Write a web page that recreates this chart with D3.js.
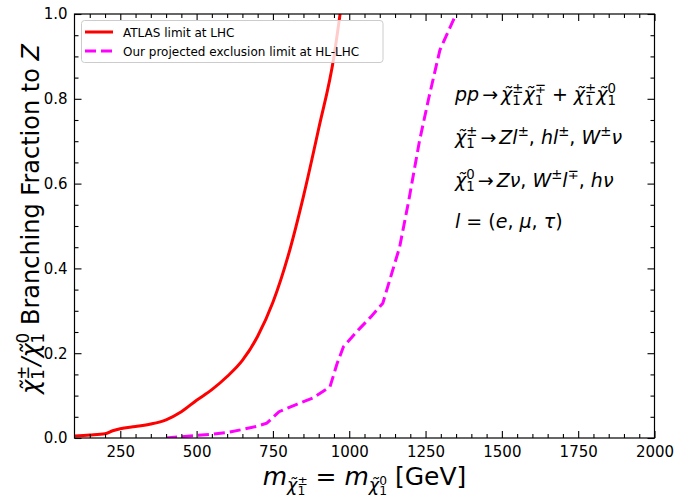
<!DOCTYPE html>
<html>
<head>
<meta charset="utf-8">
<script src="https://cdn.jsdelivr.net/npm/d3@7"></script>
<style>
  body { margin: 0; background: #fff; }
  svg text { font-family: "DejaVu Sans", sans-serif; fill: #000; white-space: pre; }
</style>
</head>
<body>
<div id="chart"></div>
<script>
// ATLAS limit at LHC
const atlasMass = [100, 150, 200, 225, 250, 300, 350, 400, 450, 500, 550, 600, 650, 700, 750, 800, 850, 900, 950, 970];
const atlasBR = [0.005, 0.007, 0.010, 0.017, 0.022, 0.027, 0.033, 0.043, 0.062, 0.089, 0.114, 0.145, 0.183, 0.24, 0.32, 0.43, 0.57, 0.73, 0.90, 1.0];

// projected HL-LHC exclusion
const hlMass = [400, 450, 500, 550, 600, 650, 700, 730, 770, 830, 880, 937, 960, 981, 1030, 1070, 1110, 1140, 1165, 1195, 1230, 1260, 1297, 1350];
const hlBR = [0.0, 0.003, 0.006, 0.009, 0.013, 0.02, 0.028, 0.035, 0.062, 0.08, 0.094, 0.121, 0.175, 0.215, 0.255, 0.285, 0.318, 0.39, 0.45, 0.56, 0.70, 0.80, 0.915, 1.0];

const xTicks = [250, 500, 750, 1000, 1250, 1500, 1750, 2000];
const yTicks = [0.0, 0.2, 0.4, 0.6, 0.8, 1.0];
const legendLabels = ["ATLAS limit at LHC", "Our projected exclusion limit at HL-LHC"];

const width = 675, height = 495;
const margin = {top: 14, right: 20.5, bottom: 57, left: 74.5};

const svg = d3.select("#chart").append("svg")
    .attr("width", width)
    .attr("height", height);

const x = d3.scaleLinear().domain([100, 2000]).range([margin.left, width - margin.right]);
const y = d3.scaleLinear().domain([0, 1]).range([height - margin.bottom, margin.top]);

const chi = "\u03C7\u0303";

// mathtext-like helper: base glyph with stacked sup/sub, advances by measured widths
function drawMath(parent, x0, y0, tokens, size) {
    const g = parent.append("g");
    let cx = x0;
    tokens.forEach(tk => {
        if (tk.gap) { cx += tk.gap; return; }
        let w = 0;
        if (tk.t) {
            const b = g.append("text")
                .attr("x", cx).attr("y", y0)
                .attr("font-size", size)
                .attr("font-style", tk.it ? "italic" : "normal")
                .text(tk.t);
            w = b.node().getComputedTextLength();
        }
        let extra = 0;
        if (tk.sup != null) {
            const s = g.append("text")
                .attr("x", cx + w).attr("y", y0 - size * 0.42)
                .attr("font-size", size * 0.7)
                .text(tk.sup);
            extra = Math.max(extra, s.node().getComputedTextLength());
        }
        if (tk.sub != null) {
            const s = g.append("text")
                .attr("x", cx + w).attr("y", y0 + size * 0.22)
                .attr("font-size", size * 0.7)
                .text(tk.sub);
            extra = Math.max(extra, s.node().getComputedTextLength());
        }
        cx += w + extra;
    });
    return {g, w: cx - x0};
}

// clip
svg.append("clipPath").attr("id", "clip")
  .append("rect")
    .attr("x", margin.left).attr("y", margin.top)
    .attr("width", x.range()[1] - x.range()[0])
    .attr("height", y.range()[0] - y.range()[1]);

// curves
const atlasData = atlasMass.map((m, i) => [m, atlasBR[i]]);
const hlData = hlMass.map((m, i) => [m, hlBR[i]]);

svg.append("path")
    .datum(atlasData)
    .attr("clip-path", "url(#clip)")
    .attr("fill", "none")
    .attr("stroke", "#ff0000")
    .attr("stroke-width", 3)
    .attr("d", d3.line().x(d => x(d[0])).y(d => y(d[1])).curve(d3.curveMonotoneX));

svg.append("path")
    .datum(hlData)
    .attr("clip-path", "url(#clip)")
    .attr("fill", "none")
    .attr("stroke", "#ff00ff")
    .attr("stroke-width", 3)
    .attr("stroke-dasharray", "11,5")
    .attr("d", d3.line().x(d => x(d[0])).y(d => y(d[1])));

// axes, ticks pointing inward on all four sides
const xMinor = d3.range(150, 2000, 50).filter(v => v % 250 !== 0);
const yMinor = d3.range(0.05, 1, 0.05).filter(v => Math.abs(v * 5 - Math.round(v * 5)) > 1e-6);

function styleAxis(g) {
    g.select(".domain").remove();
    g.selectAll(".tick line").attr("stroke", "#000").attr("stroke-width", 1.1);
    g.selectAll(".tick text").attr("font-size", 15).attr("fill", "#000");
}

const bottomY = y(0), topY = y(1), leftX = x(100), rightX = x(2000);

svg.append("g").attr("transform", `translate(0,${bottomY})`)
    .call(d3.axisBottom(x).tickValues(xTicks).tickFormat(d3.format("d")).tickSizeInner(-7).tickPadding(8))
    .call(styleAxis);
svg.append("g").attr("transform", `translate(0,${bottomY})`)
    .call(d3.axisBottom(x).tickValues(xMinor).tickFormat("").tickSizeInner(-4))
    .call(styleAxis);
svg.append("g").attr("transform", `translate(0,${topY})`)
    .call(d3.axisTop(x).tickValues(xTicks).tickFormat("").tickSizeInner(-7))
    .call(styleAxis);
svg.append("g").attr("transform", `translate(0,${topY})`)
    .call(d3.axisTop(x).tickValues(xMinor).tickFormat("").tickSizeInner(-4))
    .call(styleAxis);

svg.append("g").attr("transform", `translate(${leftX},0)`)
    .call(d3.axisLeft(y).tickValues(yTicks).tickFormat(d3.format(".1f")).tickSizeInner(-7).tickPadding(7))
    .call(styleAxis);
svg.append("g").attr("transform", `translate(${leftX},0)`)
    .call(d3.axisLeft(y).tickValues(yMinor).tickFormat("").tickSizeInner(-4))
    .call(styleAxis);
svg.append("g").attr("transform", `translate(${rightX},0)`)
    .call(d3.axisRight(y).tickValues(yTicks).tickFormat("").tickSizeInner(-7))
    .call(styleAxis);
svg.append("g").attr("transform", `translate(${rightX},0)`)
    .call(d3.axisRight(y).tickValues(yMinor).tickFormat("").tickSizeInner(-4))
    .call(styleAxis);

// frame
svg.append("rect")
    .attr("x", leftX).attr("y", topY)
    .attr("width", rightX - leftX).attr("height", bottomY - topY)
    .attr("fill", "none").attr("stroke", "#000").attr("stroke-width", 1.2);

// legend
const lg = svg.append("g");
lg.append("rect")
    .attr("x", 81.5).attr("y", 20.5).attr("width", 301.5).attr("height", 42)
    .attr("rx", 3)
    .attr("fill", "#fff").attr("fill-opacity", 0.8)
    .attr("stroke", "#cccccc").attr("stroke-width", 1);
const legendStyles = [{c: "#ff0000", dash: null}, {c: "#ff00ff", dash: "11,5"}];
legendLabels.forEach((lab, i) => {
    const ly = 32 + i * 19;
    lg.append("line")
        .attr("x1", 85).attr("x2", 113).attr("y1", ly).attr("y2", ly)
        .attr("stroke", legendStyles[i].c).attr("stroke-width", 3)
        .attr("stroke-dasharray", legendStyles[i].dash);
    lg.append("text")
        .attr("x", 123).attr("y", ly + 4.5)
        .attr("font-size", 12)
        .text(lab);
});

// process annotation
const fs = 19;
drawMath(svg, 455, 101, [
    {t: "pp", it: true}, {gap: 3}, {t: "\u2192"}, {gap: 3},
    {t: chi, it: true, sup: "\u00B1", sub: "1"}, {t: chi, it: true, sup: "\u2213", sub: "1"},
    {t: " + "},
    {t: chi, it: true, sup: "\u00B1", sub: "1"}, {t: chi, it: true, sup: "0", sub: "1"}
], fs);
drawMath(svg, 455, 144, [
    {t: chi, it: true, sup: "\u00B1", sub: "1"}, {gap: 3}, {t: "\u2192"}, {gap: 3},
    {t: "Zl", it: true, sup: "\u00B1"}, {t: ", "}, {t: "hl", it: true, sup: "\u00B1"}, {t: ", "},
    {t: "W", it: true, sup: "\u00B1"}, {t: "\u03BD", it: true}
], fs);
drawMath(svg, 455, 187, [
    {t: chi, it: true, sup: "0", sub: "1"}, {gap: 3}, {t: "\u2192"}, {gap: 3},
    {t: "Z\u03BD", it: true}, {t: ", "}, {t: "W", it: true, sup: "\u00B1"}, {t: "l", it: true, sup: "\u2213"},
    {t: ", "}, {t: "h\u03BD", it: true}
], fs);
drawMath(svg, 455, 228, [
    {t: "l", it: true}, {t: " = ("}, {t: "e", it: true}, {t: ", "}, {t: "\u03BC", it: true},
    {t: ", "}, {t: "\u03C4", it: true}, {t: ")"}
], fs);

// x label: m with subscript chi (itself carrying sup/sub)
function drawXLabel() {
    const size = 25, ss = size * 0.7, sss = ss * 0.7;
    const g = svg.append("g");
    let cx = 0;
    const add = (t, opts) => {
        const el = g.append("text").attr("x", cx).attr("y", opts.y || 0)
            .attr("font-size", opts.size || size)
            .attr("font-style", opts.it ? "italic" : "normal").text(t);
        return el.node().getComputedTextLength();
    };
    const mchi = (sup) => {
        cx += add("m", {it: true});
        const w = add(chi, {it: true, size: ss, y: 6});
        const base = cx + w;
        const a = g.append("text").attr("x", base).attr("y", 0).attr("font-size", sss).text(sup);
        const b = g.append("text").attr("x", base).attr("y", 10).attr("font-size", sss).text("1");
        cx = base + Math.max(a.node().getComputedTextLength(), b.node().getComputedTextLength());
    };
    mchi("\u00B1");
    cx += add(" = ", {});
    mchi("0");
    cx += add(" [GeV]", {});
    g.attr("transform", `translate(${(leftX + rightX) / 2 - cx / 2},485)`);
}
drawXLabel();

// y label
function drawYLabel() {
    const size = 24, ss = size * 0.7;
    const g = svg.append("g");
    let cx = 0;
    const add = (t, opts) => {
        const el = g.append("text").attr("x", cx).attr("y", opts.y || 0)
            .attr("font-size", opts.size || size)
            .attr("font-style", opts.it ? "italic" : "normal").text(t);
        return el.node().getComputedTextLength();
    };
    const chiSS = (sup) => {
        const w = add(chi, {it: true});
        const base = cx + w;
        const a = g.append("text").attr("x", base).attr("y", -size * 0.42).attr("font-size", ss).text(sup);
        const b = g.append("text").attr("x", base).attr("y", size * 0.22).attr("font-size", ss).text("1");
        cx = base + Math.max(a.node().getComputedTextLength(), b.node().getComputedTextLength());
    };
    chiSS("\u00B1");
    cx += add("/", {it: true});
    chiSS("0");
    cx += add(" Branching Fraction to ", {});
    cx += add("Z", {it: true});
    g.attr("transform", `translate(39,${219 + cx / 2}) rotate(-90)`);
}
drawYLabel();
</script>
</body>
</html>
